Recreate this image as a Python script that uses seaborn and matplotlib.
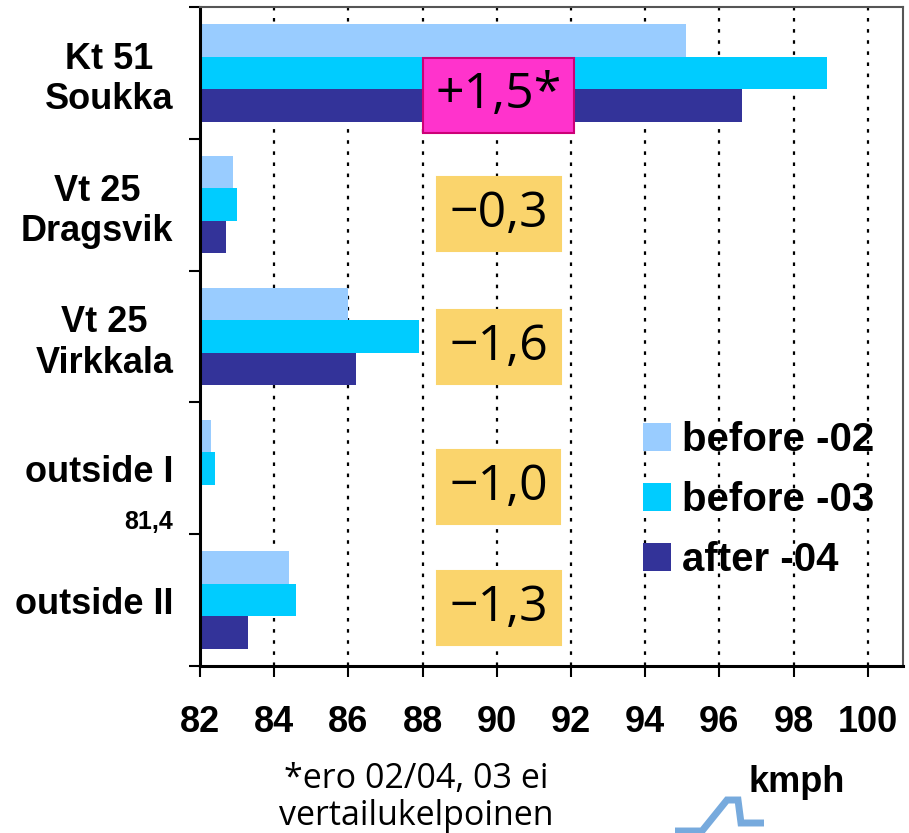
import numpy as np
import pandas as pd
import matplotlib
matplotlib.use("Agg")
import matplotlib.pyplot as plt
from matplotlib.patches import Patch
from matplotlib.lines import Line2D
from matplotlib.ticker import FixedLocator
import seaborn as sns

# ---------------- data ----------------
sites = ["Kt 51\nSoukka", "Vt 25\nDragsvik", "Vt 25\nVirkkala", "outside I", "outside II"]
periods = ["before -02", "before -03", "after -04"]
before_02 = [95.1, 82.9, 86.0, 82.3, 84.4]
before_03 = [98.9, 83.0, 87.9, 82.4, 84.6]
after_04 = [96.6, 82.7, 86.2, 81.4, 83.3]
change_labels = ["+1,5*", "\u22120,3", "\u22121,6", "\u22121,0", "\u22121,3"]
hidden_label = "81,4"
xticks = [82, 84, 86, 88, 90, 92, 94, 96, 98, 100]
colors = ["#99CCFF", "#00CCFF", "#333399"]

df = pd.DataFrame({
    "site": sites * 3,
    "period": [periods[0]] * 5 + [periods[1]] * 5 + [periods[2]] * 5,
    "speed": before_02 + before_03 + after_04,
})

# ---------------- figure ----------------
sns.set_theme(style="white")
plt.rcParams["font.family"] = ["Liberation Sans", "DejaVu Sans"]
plt.rcParams["text.color"] = "black"
plt.rcParams["xtick.color"] = "black"
plt.rcParams["ytick.color"] = "black"
plt.rcParams["axes.labelcolor"] = "black"

W, H = 909, 833
fig = plt.figure(figsize=(W / 100, H / 100), dpi=100)
ax = fig.add_axes([200 / W, 1 - 666 / H, 703 / W, 659 / H])

sns.barplot(data=df, y="site", x="speed", hue="period", order=sites,
            hue_order=periods, palette=colors, orient="h", width=0.74,
            saturation=1, errorbar=None, linewidth=0, legend=False, ax=ax)

ax.set_xlim(82, 100.95)
ax.set_ylim(4.5, -0.5)
ax.set_xlabel("")
ax.set_ylabel("")

# x ticks
ax.set_xticks(xticks)
ax.set_xticklabels([str(t) for t in xticks], fontsize=26, fontweight="bold",
                   color="black")
ax.tick_params(axis="x", direction="out", length=8, width=1.5, color="black",
               labelcolor="black", pad=20, bottom=True)

# y ticks: boundaries as major (no labels), categories as minor (labels)
ax.yaxis.set_major_locator(FixedLocator(np.arange(-0.5, 5.0, 1.0)))
ax.set_yticklabels([])
ax.set_yticks(np.arange(5), minor=True)
ax.set_yticklabels(sites, minor=True, fontsize=26, fontweight="bold",
                   multialignment="center", color="black")
ax.tick_params(axis="y", which="major", direction="out", length=8, width=1.5,
               color="black", left=True)
ax.tick_params(axis="y", which="minor", length=0, pad=19, left=True,
               labelcolor="black")

# grid (behind bars)
ax.xaxis.grid(True, color="black", linewidth=1.6, linestyle=(0, (1.6, 3.4)))
ax.yaxis.grid(False)
for b in ax.patches:
    b.set_zorder(1)
for gl in ax.get_xgridlines():
    gl.set_zorder(0.5)

# spines
for s in ["left", "bottom"]:
    ax.spines[s].set_color("black")
    ax.spines[s].set_linewidth(2.2)
for s in ["top", "right"]:
    ax.spines[s].set_visible(True)
    ax.spines[s].set_color("#555555")
    ax.spines[s].set_linewidth(1.5)

# change boxes
box_y = [0.17, 1.07, 2.08, 3.14, 4.06]
for i, (lab, yy) in enumerate(zip(change_labels, box_y)):
    if i == 0:
        fc, ec = "#FF33CC", "#CC0077"
    else:
        fc, ec = "#FAD46C", "#FAD46C"
    ax.text(90.05, yy, lab, ha="center", va="center", fontsize=36,
            family=["Open Sans", "DejaVu Sans"], color="black", zorder=5,
            bbox=dict(boxstyle="square,pad=0.25", fc=fc, ec=ec, lw=1.5))

# hidden bar value label
ax.text(-0.038, 3.41, hidden_label, transform=ax.get_yaxis_transform(),
        ha="right", va="center", fontsize=18, fontweight="bold")

# legend
handles = [Patch(facecolor=c, edgecolor="none", label=p) for c, p in zip(colors, periods)]
leg = fig.legend(handles=handles, loc="upper left",
                 bbox_to_anchor=(643 / W, 1 - 421 / H), frameon=False,
                 prop=dict(size=29, weight="bold"), borderpad=0, borderaxespad=0,
                 handlelength=0.69, handleheight=0.69, handletextpad=0.27,
                 labelspacing=0.55)

# footnote
fig.text(416 / W, 1 - 762 / H, "*ero 02/04, 03 ei\nvertailukelpoinen",
         ha="center", va="top", fontsize=24.5, linespacing=1.12,
         family=["Open Sans", "DejaVu Sans"])

# unit
fig.text(797 / W, 1 - 783 / H, "kmph", ha="center", va="center",
         fontsize=26, fontweight="bold")

# logo fragment
lx = np.array([675, 702, 727, 738, 741, 764]) / W
ly = 1 - np.array([831, 831, 800, 800, 823, 823]) / H
fig.add_artist(Line2D(lx, ly, transform=fig.transFigure, color="#77AADD",
                      lw=5, solid_joinstyle="miter", solid_capstyle="butt"))

fig.savefig("out.png", dpi=100)
